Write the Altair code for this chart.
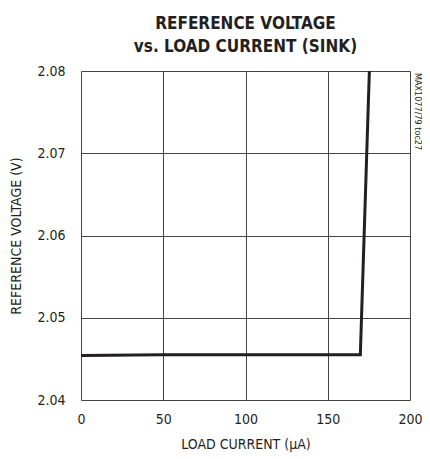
import altair as alt
import pandas as pd

load_current = [0, 50, 100, 150, 169.8, 175.3]
ref_voltage = [2.0454, 2.0455, 2.0455, 2.0455, 2.0455, 2.0800]
x_ticks = [0, 50, 100, 150, 200]
y_ticks = [2.04, 2.05, 2.06, 2.07, 2.08]

df = pd.DataFrame({"x": load_current, "y": ref_voltage})
FONT = "'DejaVu Sans Condensed', 'Roboto', sans-serif"

line = alt.Chart(df).mark_line(color="#231f20", strokeWidth=3, clip=True).encode(
    x=alt.X("x:Q", scale=alt.Scale(domain=[0, 200], nice=False),
            axis=alt.Axis(values=x_ticks, title="LOAD CURRENT (µA)", grid=True,
                          gridColor="#444444", gridWidth=1, ticks=False, domain=False,
                          labelFontSize=14, titleFontSize=14, labelFont=FONT, titleFont=FONT,
                          labelColor="#231f20", titleColor="#231f20", titleFontWeight="normal",
                          labelPadding=12, titlePadding=11, labelFlush=False)),
    y=alt.Y("y:Q", scale=alt.Scale(domain=[2.04, 2.08], nice=False, zero=False),
            axis=alt.Axis(values=y_ticks, format=".2f", title="REFERENCE VOLTAGE (V)", grid=True,
                          gridColor="#444444", gridWidth=1, ticks=False, domain=False,
                          labelFontSize=14, titleFontSize=14, labelFont=FONT, titleFont=FONT,
                          labelColor="#231f20", titleColor="#231f20", titleFontWeight="normal",
                          labelPadding=16, titlePadding=13, labelFlush=False)),
)

note = alt.Chart(pd.DataFrame({"t": ["MAX1077/79 toc27"]})).mark_text(
    angle=90, align="left", baseline="middle", fontSize=9, font=FONT, color="#231f20"
).encode(text="t:N", x=alt.value(337), y=alt.value(2))

chart = alt.layer(line, note).properties(
    width=329, height=329,
    title=alt.TitleParams(text=["REFERENCE VOLTAGE", "vs. LOAD CURRENT (SINK)"],
                          fontSize=17, fontWeight="bold", font=FONT, color="#231f20",
                          anchor="middle", lineHeight=23, offset=8),
    autosize=alt.AutoSizeParams(type="none"),
    padding={"left": 73, "top": 63, "right": 12, "bottom": 54},
).configure_view(stroke="#231f20", strokeWidth=3).configure(background="white")

chart.save("out.html", embed_options={"renderer": "svg", "actions": False})
